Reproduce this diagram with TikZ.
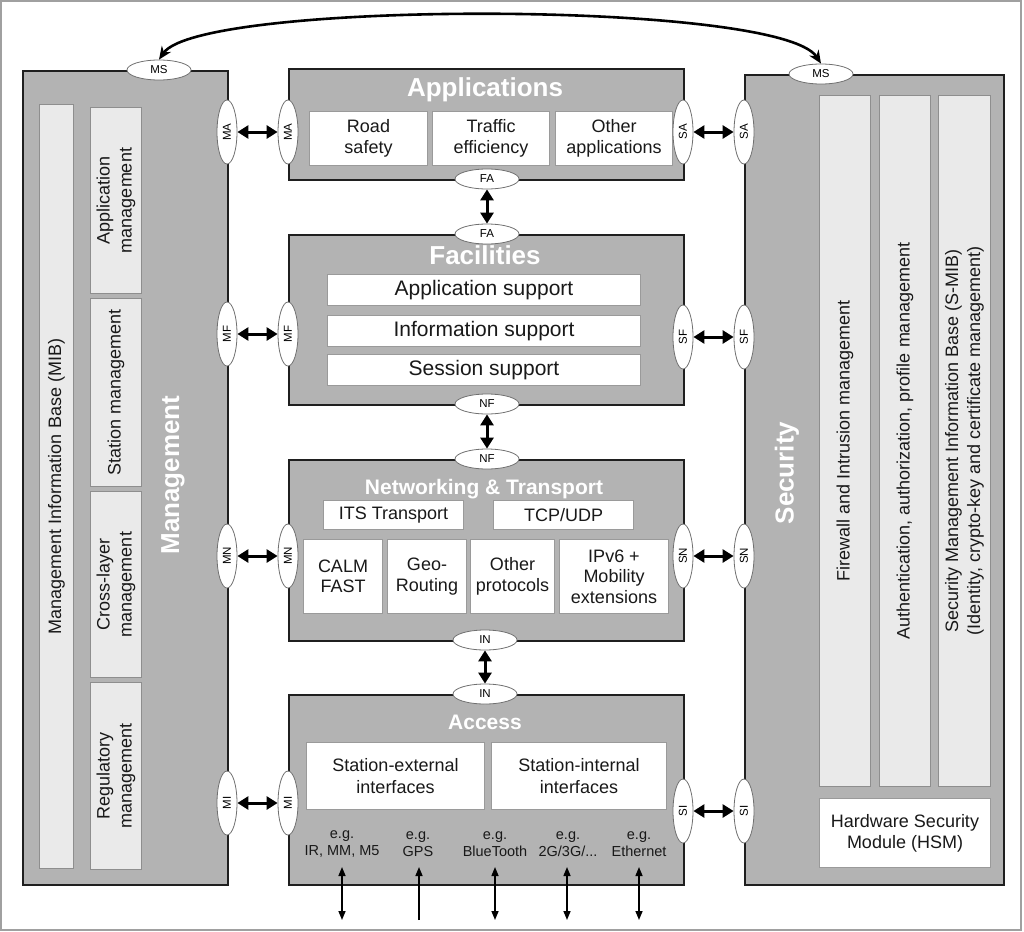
\documentclass[tikz,border=0pt]{standalone}
\usepackage{fontspec}
\setmainfont{Liberation Sans}
\usetikzlibrary{arrows.meta,shapes.geometric}
\definecolor{layerfill}{HTML}{B3B3B3}
\definecolor{stripfill}{HTML}{EAEAEA}
\definecolor{stripline}{HTML}{8E8E8E}
\definecolor{subline}{HTML}{9A9A9A}
\definecolor{frameline}{HTML}{A0A0A0}
\definecolor{portline}{HTML}{707070}
\newcommand\myfs[2]{\fontsize{#1}{#2}\selectfont}
\begin{document}
\begin{tikzpicture}[x=1pt,y=-1pt,
  layer/.style={draw=black!88, line width=1.6pt, fill=layerfill, anchor=north west, inner sep=0pt},
  stripbox/.style={draw=stripline, line width=1pt, fill=stripfill, anchor=north west, inner sep=0pt},
  subbox/.style={draw=subline, line width=1pt, fill=white, anchor=north west, inner sep=0pt, align=center, font=\myfs{18}{21}, text=black!90},
  striptext/.style={rotate=90, align=center, font=\myfs{18}{22}, text=black!90},
  title/.style={text=white, font=\bfseries\myfs{26}{30}},
  subtitle/.style={text=white, font=\bfseries\myfs{21}{25}},
  port/.style={ellipse, draw=portline, fill=white, line width=0.8pt, minimum width=64pt, minimum height=20pt, inner sep=0pt, font=\myfs{11.5}{13}},
  vport/.style={port, rotate=90},
  dbl/.style={line width=3pt, {Triangle[length=11pt,width=13pt]}-{Triangle[length=11pt,width=13pt]}},
  thinarrow/.style={line width=1.5pt, {Triangle[length=9pt,width=7pt]}-{Triangle[length=9pt,width=7pt]}},
  onearrow/.style={line width=1.5pt, -{Triangle[length=9pt,width=7pt]}},
  curvearrow/.style={line width=2.6pt, {Stealth[length=13pt,width=11pt]}-{Stealth[length=13pt,width=11pt]}},
  eg/.style={align=center, font=\myfs{14.5}{17}, text=black!90}
]
\useasboundingbox (0,0) rectangle (1024,931);
\draw[frameline, line width=1.2pt] (1,1) rectangle (1021,930);

% ---------- Management ----------
\node[layer, minimum width=205pt, minimum height=814pt] (mgmt) at (22,70) {};
\node[stripbox, minimum width=34pt, minimum height=764pt] (mib) at (39,104) {};
\node[striptext] at (mib.center) {Management Information Base (MIB)};
\node[stripbox, minimum width=51pt, minimum height=186pt] (appm) at (90,107) {};
\node[striptext] at (appm.center) {Application\\management};
\node[stripbox, minimum width=51pt, minimum height=188pt] (stam) at (90,298) {};
\node[striptext] at (stam.center) {Station management};
\node[stripbox, minimum width=51pt, minimum height=186pt] (xlm) at (90,491) {};
\node[striptext] at (xlm.center) {Cross-layer\\management};
\node[stripbox, minimum width=51pt, minimum height=187pt] (regm) at (90,682) {};
\node[striptext] at (regm.center) {Regulatory\\management};
\node[title, rotate=90] (mgmttitle) at (173,475) {Management};

% ---------- Security ----------
\node[layer, minimum width=259pt, minimum height=810pt] (sec) at (744,74) {};
\node[stripbox, minimum width=51pt, minimum height=691pt] (fw) at (819,95) {};
\node[striptext] at (fw.center) {Firewall and Intrusion management};
\node[stripbox, minimum width=51pt, minimum height=691pt] (auth) at (879,95) {};
\node[striptext] at (auth.center) {Authentication, authorization, profile management};
\node[stripbox, minimum width=52pt, minimum height=691pt] (smib) at (938,95) {};
\node[striptext] at (smib.center) {Security Management Information Base (S-MIB)\\(Identity, crypto-key and certificate management)};
\node[subbox, minimum width=171pt, minimum height=69pt] (hsm) at (819,798) {Hardware Security\\Module (HSM)};
\node[title, rotate=90] (sectitle) at (787,473) {Security};

% ---------- Applications ----------
\node[layer, minimum width=395pt, minimum height=111pt] (app) at (288,68) {};
\node[title, anchor=base] (apptitle) at (485,97) {Applications};
\node[subbox, minimum width=118pt, minimum height=54pt] (rs) at (309,111) {Road\\safety};
\node[subbox, minimum width=117pt, minimum height=54pt] (te) at (432,111) {Traffic\\efficiency};
\node[subbox, minimum width=117pt, minimum height=54pt] (oa) at (555,111) {Other\\applications};

% ---------- Facilities ----------
\node[layer, minimum width=395pt, minimum height=170pt] (fac) at (288,234) {};
\node[title, anchor=base] (factitle) at (485,264) {Facilities};
\node[subbox, minimum width=313pt, minimum height=31pt, font=\myfs{21}{24}] (as) at (327,274) {Application support};
\node[subbox, minimum width=313pt, minimum height=31pt, font=\myfs{21}{24}] (is) at (327,315) {Information support};
\node[subbox, minimum width=313pt, minimum height=31pt, font=\myfs{21}{24}] (ss) at (327,354) {Session support};

% ---------- Networking & Transport ----------
\node[layer, minimum width=395pt, minimum height=181pt] (net) at (288,459) {};
\node[subtitle, anchor=base] (nettitle) at (484,494) {Networking \& Transport};
\node[subbox, minimum width=140pt, minimum height=29pt] (its) at (323,500) {ITS Transport};
\node[subbox, minimum width=140pt, minimum height=29pt] (tcp) at (493,500) {TCP/UDP};
\node[subbox, minimum width=79pt, minimum height=74pt, font=\myfs{18}{20.5}] (calm) at (303,539) {CALM\\FAST};
\node[subbox, minimum width=79pt, minimum height=74pt, font=\myfs{18}{20.5}] (geo) at (387,539) {Geo-\\Routing};
\node[subbox, minimum width=84pt, minimum height=74pt, font=\myfs{18}{20.5}] (oth) at (470,539) {Other\\protocols};
\node[subbox, minimum width=109pt, minimum height=74pt, font=\myfs{18}{20.5}] (ipv6) at (559,539) {IPv6 +\\Mobility\\extensions};

% ---------- Access ----------
\node[layer, minimum width=395pt, minimum height=190pt] (acc) at (288,694) {};
\node[subtitle, anchor=base] (acctitle) at (485,729) {Access};
\node[subbox, minimum width=178pt, minimum height=67pt, font=\myfs{18}{22}] (sext) at (306,742) {Station-external\\interfaces};
\node[subbox, minimum width=175pt, minimum height=67pt, font=\myfs{18}{22}] (sint) at (491,742) {Station-internal\\interfaces};
\node[eg] (eg1) at (342,844) {e.g.\\IR, MM, M5};
\node[eg] (eg2) at (418,844) {e.g.\\GPS};
\node[eg] (eg3) at (495,844) {e.g.\\BlueTooth};
\node[eg] (eg4) at (568,844) {e.g.\\2G/3G/...};
\node[eg] (eg5) at (639,844) {e.g.\\Ethernet};

% ---------- Ports ----------
\node[port] (msL) at (159,70) {MS};
\node[port] (msR) at (821,74) {MS};
\node[vport] (maL) at (227,132) {MA};
\node[vport] (maR) at (288,132) {MA};
\node[vport] (saL) at (683,132) {SA};
\node[vport] (saR) at (744,132) {SA};
\node[port] (faT) at (487,179) {FA};
\node[port] (faB) at (487,234) {FA};
\node[vport] (mfL) at (227,334) {MF};
\node[vport] (mfR) at (288,334) {MF};
\node[vport] (sfL) at (683,337) {SF};
\node[vport] (sfR) at (744,337) {SF};
\node[port] (nfT) at (487,404) {NF};
\node[port] (nfB) at (487,459) {NF};
\node[vport] (mnL) at (227,556) {MN};
\node[vport] (mnR) at (288,556) {MN};
\node[vport] (snL) at (683,556) {SN};
\node[vport] (snR) at (744,556) {SN};
\node[port] (inT) at (485,640) {IN};
\node[port] (inB) at (485,694) {IN};
\node[vport] (miL) at (227,803) {MI};
\node[vport] (miR) at (288,803) {MI};
\node[vport] (siL) at (683,811) {SI};
\node[vport] (siR) at (744,811) {SI};

% ---------- Connectors ----------
\draw[curvearrow] (msL.north) .. controls (200,0) and (780,0) .. (msR.north);
\draw[dbl] (maL) -- (maR);
\draw[dbl] (saL) -- (saR);
\draw[dbl] (faT) -- (faB);
\draw[dbl] (mfL) -- (mfR);
\draw[dbl] (sfL) -- (sfR);
\draw[dbl] (nfT) -- (nfB);
\draw[dbl] (mnL) -- (mnR);
\draw[dbl] (snL) -- (snR);
\draw[dbl] (inT) -- (inB);
\draw[dbl] (miL) -- (miR);
\draw[dbl] (siL) -- (siR);

\coordinate (t1) at (342,867); \coordinate (b1) at (342,920);
\coordinate (t2) at (419,867); \coordinate (b2) at (419,920);
\coordinate (t3) at (495,867); \coordinate (b3) at (495,920);
\coordinate (t4) at (567,867); \coordinate (b4) at (567,920);
\coordinate (t5) at (639,867); \coordinate (b5) at (639,920);
\draw[thinarrow] (b1) -- (t1);
\draw[onearrow] (b2) -- (t2);
\draw[thinarrow] (b3) -- (t3);
\draw[thinarrow] (b4) -- (t4);
\draw[thinarrow] (b5) -- (t5);
\end{tikzpicture}
\end{document}
